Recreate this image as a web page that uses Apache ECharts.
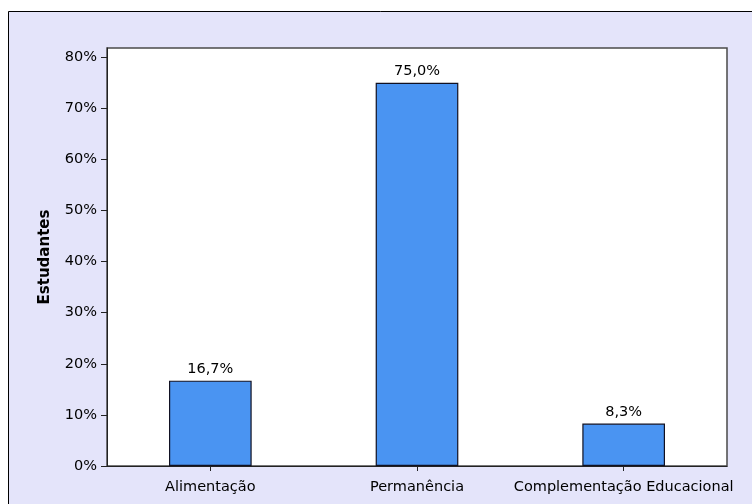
<!DOCTYPE html>
<html>
<head>
<meta charset="utf-8">
<script src="https://cdn.jsdelivr.net/npm/echarts@6/dist/echarts.min.js"></script>
<style>
html,body{margin:0;padding:0;background:#fff;}
#c{width:752px;height:504px;}
</style>
</head>
<body>
<div id="c"></div>
<script>
const categories = ['Alimentação', 'Permanência', 'Complementação Educacional'];
const values = [16.7, 75.0, 8.3];
const tickValues = [0, 10, 20, 30, 40, 50, 60, 70, 80];
const yAxisName = 'Estudantes';

const font = 'DejaVu Sans';
const chart = echarts.init(document.getElementById('c'), null, {renderer: 'canvas'});
chart.setOption({
  backgroundColor: '#ffffff',
  animation: false,
  graphic: [{
    type: 'rect', z: -10, silent: true,
    shape: {x: 8.5, y: 11.5, width: 800, height: 600},
    style: {fill: '#E4E4FA', stroke: '#000', lineWidth: 1}
  }],
  grid: {
    left: 107, right: 25, top: 48, bottom: 38,
    show: true, backgroundColor: '#ffffff', borderColor: '#4a4a4a', borderWidth: 1.5
  },
  xAxis: {
    type: 'category',
    data: categories,
    axisLine: {lineStyle: {color: '#222', width: 1}},
    axisTick: {show: true, alignWithLabel: true, length: 5, lineStyle: {color: '#222'}},
    axisLabel: {color: '#000', fontFamily: font, fontSize: 14.5, margin: 14, interval: 0}
  },
  yAxis: {
    type: 'value',
    min: 0, max: 81.8,
    name: yAxisName,
    nameLocation: 'middle',
    nameGap: 54,
    nameTextStyle: {color: '#000', fontFamily: font, fontSize: 15, fontWeight: 'bold'},
    splitLine: {show: false},
    axisLine: {show: true, lineStyle: {color: '#222', width: 1}},
    axisTick: {show: true, length: 6, customValues: tickValues, lineStyle: {color: '#222'}},
    axisLabel: {
      customValues: tickValues,
      color: '#000', fontFamily: font, fontSize: 14.5, margin: 10,
      formatter: v => v + '%'
    }
  },
  series: [{
    type: 'bar',
    data: values,
    barWidth: '40%',
    itemStyle: {color: '#4A94F2', borderColor: '#111122', borderWidth: 1.2},
    label: {
      show: true, position: 'top', distance: 4,
      color: '#000', fontFamily: font, fontSize: 14.5,
      formatter: p => p.value.toFixed(1).replace('.', ',') + '%'
    }
  }]
});
</script>
</body>
</html>
